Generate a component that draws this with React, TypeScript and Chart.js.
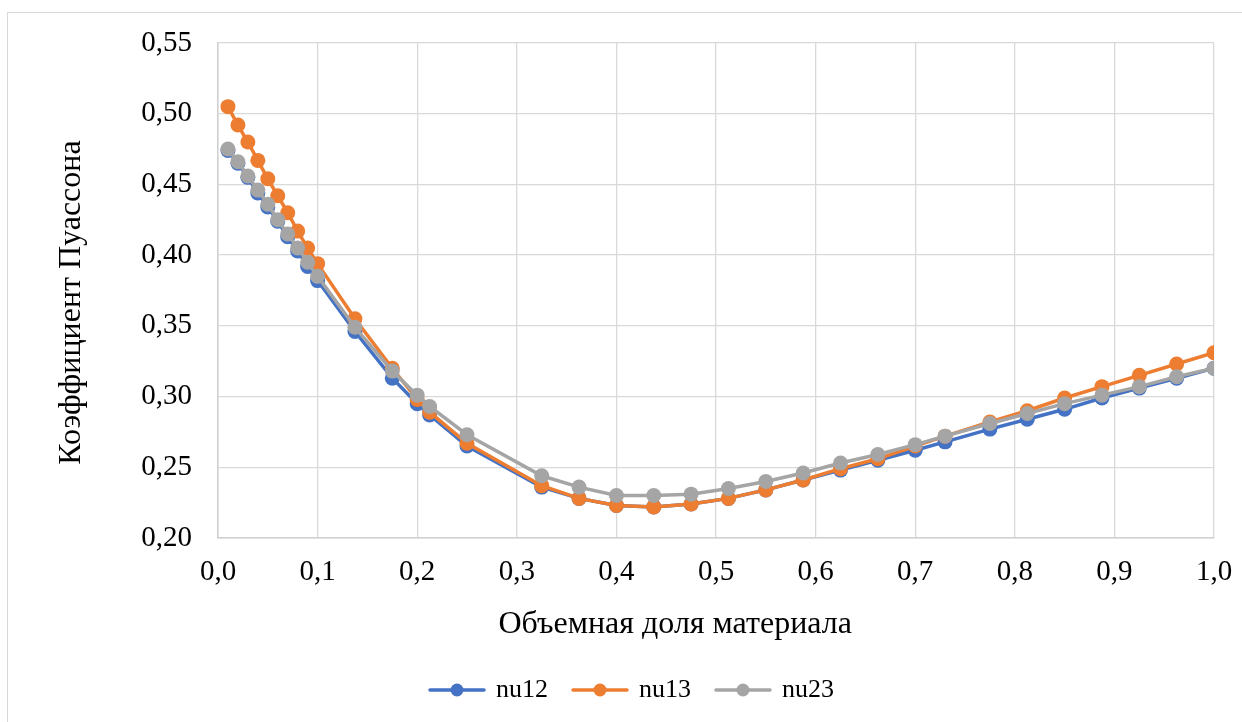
import React, { useEffect, useRef } from "react";
import { Chart, registerables } from "chart.js";

Chart.register(...registerables);

const xValues = [
  0.01, 0.02, 0.03, 0.04, 0.05, 0.06, 0.07, 0.08, 0.09, 0.1,
  0.1375, 0.175, 0.2, 0.2125, 0.25,
  0.325, 0.3625, 0.4, 0.4375, 0.475, 0.5125, 0.55, 0.5875, 0.625, 0.6625,
  0.7, 0.73, 0.775, 0.8125, 0.85, 0.8875, 0.925, 0.9625, 1.0,
];

const nu12 = [
  0.474, 0.465, 0.455, 0.444, 0.434, 0.424, 0.413, 0.403, 0.392, 0.382,
  0.346, 0.313, 0.295, 0.287, 0.265,
  0.236, 0.228, 0.223, 0.222, 0.224, 0.228, 0.234, 0.241, 0.248, 0.255,
  0.262, 0.268, 0.277, 0.284, 0.291, 0.299, 0.306, 0.313, 0.32,
];

const nu13 = [
  0.505, 0.492, 0.48, 0.467, 0.454, 0.442, 0.43, 0.417, 0.405, 0.394,
  0.355, 0.32, 0.298, 0.289, 0.267,
  0.237, 0.228, 0.223, 0.222, 0.224, 0.228, 0.234, 0.241, 0.249, 0.256,
  0.265, 0.272, 0.282, 0.29, 0.299, 0.307, 0.315, 0.323, 0.331,
];

const nu23 = [
  0.475, 0.466, 0.456, 0.446, 0.436, 0.425, 0.415, 0.405, 0.395, 0.385,
  0.349, 0.318, 0.301, 0.293, 0.273,
  0.244, 0.236, 0.23, 0.23, 0.231, 0.235, 0.24, 0.246, 0.253, 0.259,
  0.266, 0.272, 0.281, 0.288, 0.295, 0.301, 0.307, 0.314, 0.32,
];

const seriesNames = ["nu12", "nu13", "nu23"];
const seriesColors = ["#4472C4", "#ED7D31", "#A5A5A5"];

const xTicks = [0, 0.1, 0.2, 0.3, 0.4, 0.5, 0.6, 0.7, 0.8, 0.9, 1.0];
const yTicks = [0.2, 0.25, 0.3, 0.35, 0.4, 0.45, 0.5, 0.55];

const xTitle = "Объемная доля материала";
const yTitle = "Коэффициент Пуассона";

const FONT = "'Liberation Serif', 'Times New Roman', serif";
const TICK_FS = 29;
const TITLE_FS = 32;
const LEGEND_FS = 26;

const fmt = (v: number, d: number) => v.toFixed(d).replace(".", ",");

const decorPlugin = {
  id: "decor",
  afterDraw(chart: any) {
    const ctx = chart.ctx as CanvasRenderingContext2D;
    const ca = chart.chartArea;
    ctx.save();
    ctx.fillStyle = "#000000";
    ctx.font = `${TITLE_FS}px ${FONT}`;
    ctx.textAlign = "center";
    ctx.textBaseline = "middle";
    ctx.fillText(xTitle, ca.left + (ca.right - ca.left) * 0.459, ca.bottom + 87);
    ctx.save();
    ctx.translate(64, (ca.top + ca.bottom) / 2 + 12);
    ctx.rotate(-Math.PI / 2);
    ctx.fillText(yTitle, 0, 0);
    ctx.restore();

    ctx.font = `${LEGEND_FS}px ${FONT}`;
    const lineW = 54;
    const gapText = 12;
    const gapItem = 25;
    const widths = seriesNames.map((n) => ctx.measureText(n).width);
    let total = 0;
    widths.forEach((w, i) => {
      total += lineW + gapText + w + (i < widths.length - 1 ? gapItem : 0);
    });
    let x = chart.width / 2 - total / 2;
    const y = ca.bottom + 152;
    seriesNames.forEach((n, i) => {
      ctx.strokeStyle = seriesColors[i];
      ctx.lineWidth = 3.5;
      ctx.lineCap = "round";
      ctx.beginPath();
      ctx.moveTo(x, y);
      ctx.lineTo(x + lineW, y);
      ctx.stroke();
      ctx.fillStyle = seriesColors[i];
      ctx.beginPath();
      ctx.arc(x + lineW / 2, y, 6.5, 0, Math.PI * 2);
      ctx.fill();
      ctx.fillStyle = "#000000";
      ctx.textAlign = "left";
      ctx.textBaseline = "middle";
      ctx.fillText(n, x + lineW + gapText, y);
      x += lineW + gapText + widths[i] + gapItem;
    });
    ctx.restore();
  },
};

export default function App() {
  const ref = useRef<HTMLCanvasElement | null>(null);

  useEffect(() => {
    if (!ref.current) return;
    const all = [nu12, nu13, nu23];
    const chart = new Chart(ref.current, {
      type: "line",
      data: {
        datasets: all.map((vals, i) => ({
          label: seriesNames[i],
          data: xValues.map((x, j) => ({ x, y: vals[j] })),
          borderColor: seriesColors[i],
          backgroundColor: seriesColors[i],
          pointBackgroundColor: seriesColors[i],
          pointBorderColor: seriesColors[i],
          pointBorderWidth: 0,
          pointRadius: 7.5,
          borderWidth: 3.5,
          tension: 0,
          fill: false,
          order: 3 - i,
        })),
      },
      options: {
        animation: false,
        responsive: false,
        layout: { padding: { left: 0, top: 30, right: 42, bottom: 133 } },
        plugins: {
          legend: { display: false },
          title: { display: false },
          tooltip: { enabled: false },
        },
        scales: {
          x: {
            type: "linear",
            min: 0,
            max: 1,
            afterBuildTicks: (s: any) => {
              s.ticks = xTicks.map((v) => ({ value: v }));
            },
            afterFit: (s: any) => {
              s.height = 60;
            },
            ticks: {
              padding: 17,
              color: "#000000",
              font: { family: FONT, size: TICK_FS },
              maxRotation: 0,
              callback: (v: any) => fmt(Number(v), 1),
            },
            grid: { color: "#d9d9d9", lineWidth: 1.3, drawTicks: false },
            border: { color: "#d0d0d0", width: 1.5 },
          },
          y: {
            type: "linear",
            min: 0.2,
            max: 0.55,
            afterBuildTicks: (s: any) => {
              s.ticks = yTicks.map((v) => ({ value: v }));
            },
            afterFit: (s: any) => {
              s.width = 210;
              s.paddingTop = 0;
              s.paddingBottom = 0;
            },
            ticks: {
              padding: 26,
              color: "#000000",
              font: { family: FONT, size: TICK_FS },
              callback: (v: any) => fmt(Number(v), 2),
            },
            grid: { color: "#d9d9d9", lineWidth: 1.3, drawTicks: false },
            border: { color: "#d0d0d0", width: 1.5 },
          },
        },
      },
      plugins: [decorPlugin],
    });
    return () => chart.destroy();
  }, []);

  return (
    <div
      style={{
        position: "fixed",
        left: 0,
        top: 0,
        width: 1242,
        height: 722,
        overflow: "hidden",
        background: "#ffffff",
      }}
    >
      <div
        style={{
          position: "absolute",
          left: 7,
          top: 12,
          width: 1250,
          height: 720,
          border: "1px solid #d9d9d9",
          boxSizing: "border-box",
        }}
      >
        <canvas ref={ref} width={1248} height={718} style={{ display: "block" }} />
      </div>
    </div>
  );
}
